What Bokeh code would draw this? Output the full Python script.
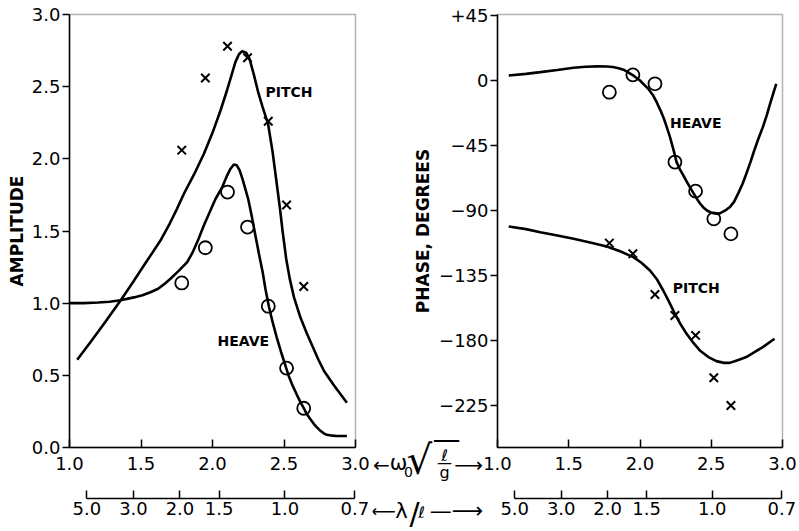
import numpy as np
from bokeh.plotting import figure
from bokeh.layouts import row
from bokeh.models import (LinearAxis, FixedTicker, Label, Range1d, PrintfTickFormatter,
                          BoxAnnotation)
from bokeh.embed import file_html
from bokeh.resources import INLINE

# ---------------- data ----------------
omega_ticks = [1.0, 1.5, 2.0, 2.5, 3.0]
wavelength_ticks = [5.0, 3.0, 2.0, 1.5, 1.0, 0.7]
amp_ticks = [0.0, 0.5, 1.0, 1.5, 2.0, 2.5, 3.0]
phase_ticks = [45, 0, -45, -90, -135, -180, -225]

exp_freq = [1.785, 1.95, 2.105, 2.245, 2.39, 2.518, 2.638]
heave_amp_exp = [1.14, 1.384, 1.77, 1.527, 0.979, 0.55, 0.272]
pitch_amp_exp = [2.06, 2.56, 2.78, 2.70, 2.26, 1.68, 1.115]
heave_phase_exp = [-8.1, 3.9, -2.3, -56.5, -76.6, -95.8, -106.2]
pitch_phase_exp = [-112.6, -120.0, -148.2, -162.7, -176.5, -205.8, -225.0]

heave_amp_x = [1.0, 1.1, 1.2, 1.28, 1.357, 1.45, 1.51, 1.566, 1.62, 1.66, 1.706, 1.76, 1.823,
               1.86, 1.90, 1.94, 1.98, 2.02, 2.068, 2.10, 2.125, 2.149, 2.17, 2.19, 2.21, 2.23,
               2.25, 2.275, 2.30, 2.325, 2.35, 2.37, 2.394, 2.42, 2.45, 2.48, 2.51, 2.535, 2.56,
               2.59, 2.615, 2.64, 2.66, 2.685, 2.708, 2.73, 2.75, 2.775, 2.80, 2.84, 2.87, 2.94]
heave_amp_y = [1.0, 1.0, 1.005, 1.01, 1.02, 1.04, 1.055, 1.076, 1.10, 1.13, 1.169, 1.22, 1.284,
               1.35, 1.44, 1.54, 1.63, 1.72, 1.804, 1.88, 1.93, 1.961, 1.955, 1.92, 1.86, 1.79,
               1.72, 1.60, 1.469, 1.34, 1.22, 1.10, 0.979, 0.87, 0.76, 0.66, 0.568, 0.49, 0.43,
               0.365, 0.314, 0.27, 0.23, 0.195, 0.164, 0.14, 0.12, 0.10, 0.088, 0.082, 0.08, 0.08]

pitch_amp_x = [1.054, 1.15, 1.25, 1.357, 1.44, 1.52, 1.58, 1.636, 1.70, 1.75, 1.80, 1.87, 1.94,
               2.00, 2.056, 2.10, 2.13, 2.16, 2.185, 2.207, 2.235, 2.26, 2.29, 2.32, 2.35, 2.389,
               2.42, 2.445, 2.47, 2.49, 2.515, 2.54, 2.57, 2.615, 2.66, 2.70, 2.74, 2.78, 2.85, 2.94]
pitch_amp_y = [0.608, 0.735, 0.87, 1.019, 1.14, 1.261, 1.35, 1.434, 1.55, 1.65, 1.758, 1.89, 2.035,
               2.18, 2.335, 2.47, 2.57, 2.67, 2.725, 2.746, 2.735, 2.69, 2.58, 2.46, 2.36, 2.24,
               2.05, 1.86, 1.67, 1.50, 1.31, 1.17, 1.04, 0.90, 0.79, 0.70, 0.61, 0.53, 0.43, 0.31]

heave_phase_x = [1.079, 1.2, 1.30, 1.42, 1.534, 1.62, 1.70, 1.767, 1.81, 1.85, 1.89, 1.92, 1.96,
                 2.0, 2.03, 2.06, 2.09, 2.117, 2.145, 2.17, 2.19, 2.21, 2.235, 2.257, 2.28, 2.30,
                 2.325, 2.35, 2.375, 2.40, 2.42, 2.443, 2.47, 2.50, 2.536, 2.56, 2.58, 2.605, 2.63,
                 2.66, 2.69, 2.72, 2.746, 2.775, 2.80, 2.83, 2.862, 2.89, 2.91, 2.935, 2.956]
heave_phase_y = [3.5, 4.6, 5.8, 7.3, 8.8, 9.5, 9.8, 9.7, 9.3, 8.5, 7.2, 5.5, 3.0,
                 0.0, -3.0, -6.0, -10.0, -15.0, -21.0, -27.0, -33.0, -39.0, -48.0, -56.5, -61.5, -65.0,
                 -69.5, -73.8, -78.0, -82.0, -85.0, -87.7, -90.0, -91.5, -92.3, -92.0, -91.0, -89.5, -87.7,
                 -84.0, -78.0, -71.5, -64.6, -56.5, -49.0, -40.5, -32.3, -24.0, -17.0, -9.0, -2.3]

pitch_phase_x = [1.079, 1.2, 1.30, 1.42, 1.534, 1.65, 1.767, 1.86, 1.953, 2.01, 2.07, 2.12, 2.163,
                 2.205, 2.245, 2.285, 2.327, 2.375, 2.42, 2.48, 2.536, 2.59, 2.63, 2.69, 2.746,
                 2.80, 2.862, 2.944]
pitch_phase_y = [-101.1, -102.9, -105.0, -107.3, -109.6, -112.1, -114.9, -118.2, -122.3, -126.2,
                 -131.5, -137.8, -145.4, -153.4, -161.5, -168.8, -175.4, -181.7, -186.9, -191.5,
                 -194.3, -195.5, -195.5, -193.5, -191.5, -188.3, -184.6, -178.8]

# ---------------- layout constants (page pixels) ----------------
TICK_FONT = "DejaVu Sans"
H = 530
W1 = 372
W2 = 425
BOX_TOP, BOX_BOTTOM = 14, 447          # visible boxes, both panels
BOX1_LEFT, BOX1_RIGHT = 69, 355
BOX2_LEFT, BOX2_RIGHT = 497, 782
LAMBDA_LINE = 498                      # page y of the wavelength scale

AMP_LO, AMP_HI = 0.0, 3.0
PH_LO, PH_HI = -254.1, 45.7

# each figure's frame covers its whole canvas; the visible boxes are drawn inside
px1 = (BOX1_RIGHT - BOX1_LEFT) / 2.0
py1 = (BOX_BOTTOM - BOX_TOP) / (AMP_HI - AMP_LO)
X1 = (1.0 - BOX1_LEFT / px1, 1.0 + (W1 - BOX1_LEFT) / px1)
Y1 = (AMP_LO - (H - BOX_BOTTOM) / py1, AMP_HI + BOX_TOP / py1)

px2 = (BOX2_RIGHT - BOX2_LEFT) / 2.0
py2 = (BOX_BOTTOM - BOX_TOP) / (PH_HI - PH_LO)
X2 = (1.0 - (BOX2_LEFT - W1) / px2, 1.0 + (W1 + W2 - BOX2_LEFT) / px2)
Y2 = (PH_LO - (H - BOX_BOTTOM) / py2, PH_HI + BOX_TOP / py2)

lam_pos = [round(float(np.sqrt(2 * np.pi / lv)), 6) for lv in wavelength_ticks]
lam_labels = {pos: f"{lv:.1f}" for pos, lv in zip(lam_pos, wavelength_ticks)}


def style_xaxis(ax, standoff):
    ax.major_tick_in = 8
    ax.major_tick_out = 0
    ax.minor_tick_line_color = None
    ax.axis_line_width = 1.5
    ax.major_tick_line_width = 1.5
    ax.major_label_standoff = standoff
    ax.major_label_text_font = TICK_FONT
    ax.major_label_text_font_size = "18px"
    ax.major_label_text_color = "black"


def style_yaxis(ya, label, lo, hi, ticks, standoff):
    ya.fixed_location = 1.0
    ya.bounds = (lo, hi)
    ya.ticker = FixedTicker(ticks=ticks)
    ya.major_tick_in = 0
    ya.major_tick_out = 7
    ya.minor_tick_line_color = None
    ya.axis_line_width = 1.5
    ya.major_tick_line_width = 1.5
    ya.major_label_standoff = 2
    ya.major_label_text_font = TICK_FONT
    ya.major_label_text_font_size = "18px"
    ya.major_label_text_color = "black"
    ya.axis_label = label
    ya.axis_label_standoff = standoff
    ya.axis_label_text_font = "DejaVu Sans"
    ya.axis_label_text_font_style = "bold"
    ya.axis_label_text_font_size = "17px"
    ya.axis_label_text_color = "black"


def base(p):
    p.background_fill_color = "white"
    p.border_fill_color = "white"
    p.outline_line_color = None
    p.xgrid.visible = False
    p.ygrid.visible = False


def bottom_axes(p, lo_value, lambda_value):
    xa = p.xaxis[0]
    xa.fixed_location = lo_value
    xa.bounds = (1.0, 3.0)
    xa.ticker = FixedTicker(ticks=omega_ticks)
    xa.formatter = PrintfTickFormatter(format="%.1f")
    style_xaxis(xa, 9)
    lax = LinearAxis(ticker=FixedTicker(ticks=lam_pos), bounds=(min(lam_pos), max(lam_pos)),
                     major_label_overrides=lam_labels, fixed_location=lambda_value)
    style_xaxis(lax, 3)
    p.add_layout(lax, "below")


def series_label(p, txt, x, y):
    p.add_layout(Label(x=x, y=y, text=txt, text_font="DejaVu Sans", text_font_style="bold",
                       text_font_size="14px", text_baseline="middle", text_align="left",
                       text_color="black"))


# ---------------- left panel: amplitude ----------------
p1 = figure(width=W1, height=H, output_backend="svg", toolbar_location=None,
            x_range=Range1d(*X1), y_range=Range1d(*Y1),
            min_border_left=0, min_border_right=0, min_border_top=0, min_border_bottom=0)
base(p1)
p1.add_layout(BoxAnnotation(left=1.0, right=3.0, bottom=AMP_LO, top=AMP_HI,
                            fill_alpha=0, line_color="black", line_width=1.5))
bottom_axes(p1, AMP_LO, AMP_LO - (LAMBDA_LINE - BOX_BOTTOM) / py1)
ya1 = p1.yaxis[0]
style_yaxis(ya1, "AMPLITUDE", AMP_LO, AMP_HI, amp_ticks, 2)
ya1.formatter = PrintfTickFormatter(format="%.1f")

p1.line(heave_amp_x, heave_amp_y, line_color="black", line_width=2.6)
p1.line(pitch_amp_x, pitch_amp_y, line_color="black", line_width=2.6)
p1.scatter(exp_freq, heave_amp_exp, marker="circle", size=13, fill_color=None,
           line_color="black", line_width=1.8)
p1.scatter(exp_freq, pitch_amp_exp, marker="x", size=12, line_color="black", line_width=2)
series_label(p1, "PITCH", 2.371, 2.46)
series_label(p1, "HEAVE", 2.035, 0.735)

# ---------------- right panel: phase ----------------
p2 = figure(width=W2, height=H, output_backend="svg", toolbar_location=None,
            x_range=Range1d(*X2), y_range=Range1d(*Y2),
            min_border_left=0, min_border_right=0, min_border_top=0, min_border_bottom=0)
base(p2)
p2.add_layout(BoxAnnotation(left=1.0, right=3.0, bottom=PH_LO, top=PH_HI,
                            fill_alpha=0, line_color="black", line_width=1.5))
bottom_axes(p2, PH_LO, PH_LO - (LAMBDA_LINE - BOX_BOTTOM) / py2)
ya2 = p2.yaxis[0]
style_yaxis(ya2, "PHASE, DEGREES", PH_LO, PH_HI, phase_ticks, 3)
ya2.major_label_overrides = {45: "+45"}

p2.line(heave_phase_x, heave_phase_y, line_color="black", line_width=2.6)
p2.line(pitch_phase_x, pitch_phase_y, line_color="black", line_width=2.6)
p2.scatter(exp_freq, heave_phase_exp, marker="circle", size=13, fill_color=None,
           line_color="black", line_width=1.8)
p2.scatter(exp_freq, pitch_phase_exp, marker="x", size=12, line_color="black", line_width=2)
series_label(p2, "HEAVE", 2.21, -29.1)
series_label(p2, "PITCH", 2.23, -144.0)


# ---------------- axis-name texts between the panels ----------------
def mid(text, px, py, size, style="normal"):
    x = 1.0 + (px - BOX2_LEFT) / px2
    y = PH_HI - (py - BOX_TOP) / py2
    p2.add_layout(Label(x=x, y=y, text=text, text_font="DejaVu Sans", text_font_size=size,
                        text_font_style=style, text_align="center", text_baseline="middle",
                        text_color="black"))


mid("\u2190", 381, 464, "20px")
mid("\u03c9", 398, 462, "21px")
mid("0", 408, 471, "14px")
mid("\u221a", 419, 459, "40px")
mid("\u2014", 446, 439, "28px")
mid("\u2113", 444, 455, "16px")
mid("\u2014", 444, 462, "15px")
mid("g", 444, 472, "16px")
mid("\u27f6", 468, 464, "20px")

mid("\u27f5", 383, 510, "17px")
mid("\u03bb", 401, 510, "21px")
mid("/", 414, 513, "30px")
mid("\u2113", 421, 512, "16px")
mid("\u2014\u27f6", 456, 510, "22px")

layout = row(p1, p2)
open("out.html", "w").write(file_html(layout, INLINE))
